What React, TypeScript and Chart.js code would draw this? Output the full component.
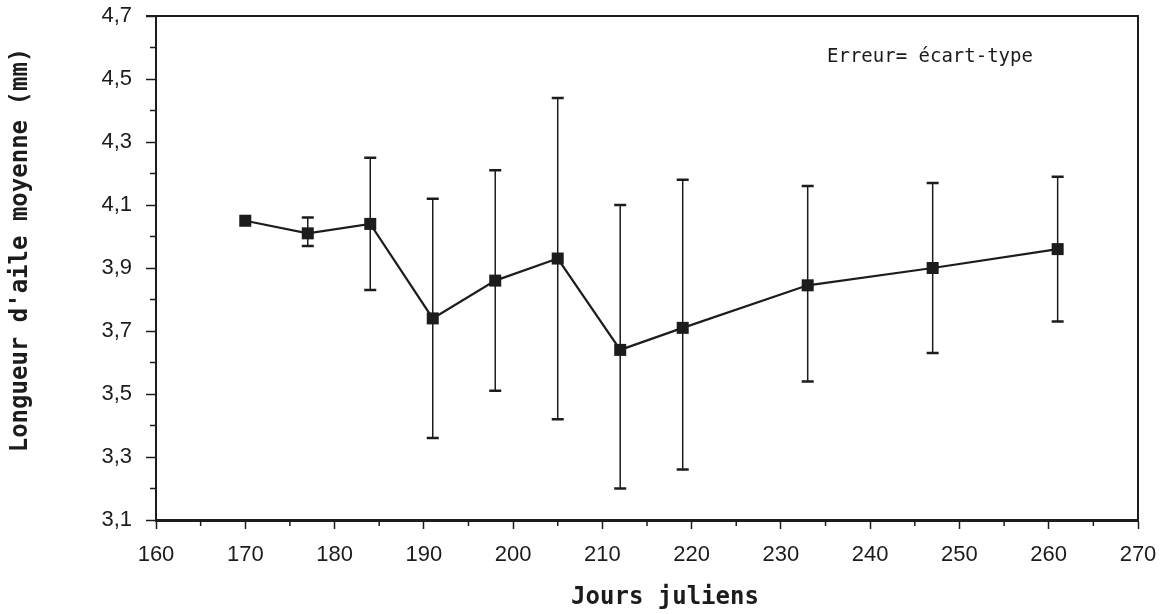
import React, { useEffect, useRef } from "react";
import { Chart, registerables } from "chart.js";

Chart.register(...registerables);

// Julian days of sampling
const days = [170, 177, 184, 191, 198, 205, 212, 219, 233, 247, 261];
// Mean wing length (mm)
const meanWing = [4.05, 4.01, 4.04, 3.74, 3.86, 3.93, 3.64, 3.71, 3.845, 3.9, 3.96];
// Error bar ends (mean ± standard deviation)
const errUpper: (number | null)[] = [null, 4.06, 4.25, 4.12, 4.21, 4.44, 4.1, 4.18, 4.16, 4.17, 4.19];
const errLower: (number | null)[] = [null, 3.97, 3.83, 3.36, 3.51, 3.42, 3.2, 3.26, 3.54, 3.63, 3.73];

const xMin = 160;
const xMax = 270;
const yMin = 3.1;
const yMax = 4.7;

const xTitle = "Jours juliens";
const yTitle = "Longueur d'aile moyenne (mm)";
const noteText = "Erreur= écart-type";

const INK = "#1c1c1c";
const TICK_FONT = "Liberation Sans";
const TITLE_FONT = "DejaVu Sans Mono";

export default function App() {
  const ref = useRef<HTMLCanvasElement | null>(null);

  useEffect(() => {
    document.body.style.margin = "0";
    const canvas = ref.current;
    if (!canvas) return;

    const decorPlugin = {
      id: "decor",
      beforeDatasetsDraw(chart: any) {
        const ctx = chart.ctx;
        const xs = chart.scales.x;
        const ys = chart.scales.y;
        ctx.save();
        ctx.strokeStyle = INK;
        for (let i = 0; i < days.length; i++) {
          const hi = errUpper[i];
          const lo = errLower[i];
          if (hi == null || lo == null) continue;
          const px = xs.getPixelForValue(days[i]);
          const pHi = ys.getPixelForValue(hi);
          const pLo = ys.getPixelForValue(lo);
          ctx.lineWidth = 1.5;
          ctx.beginPath();
          ctx.moveTo(px, pHi);
          ctx.lineTo(px, pLo);
          ctx.stroke();
          ctx.lineWidth = 2.5;
          ctx.beginPath();
          ctx.moveTo(px - 6, pHi);
          ctx.lineTo(px + 6, pHi);
          ctx.moveTo(px - 6, pLo);
          ctx.lineTo(px + 6, pLo);
          ctx.stroke();
        }
        ctx.restore();
      },
      afterDraw(chart: any) {
        const ctx = chart.ctx;
        const area = chart.chartArea;
        const xs = chart.scales.x;
        const ys = chart.scales.y;
        ctx.save();
        ctx.strokeStyle = INK;
        // top and right frame
        ctx.lineWidth = 2;
        ctx.beginPath();
        ctx.moveTo(area.left - 10, area.top);
        ctx.lineTo(area.right, area.top);
        ctx.lineTo(area.right, area.bottom);
        ctx.stroke();
        // minor ticks
        ctx.lineWidth = 1.5;
        ctx.beginPath();
        for (let v = xMin + 5; v < xMax; v += 10) {
          const px = xs.getPixelForValue(v);
          ctx.moveTo(px, area.bottom);
          ctx.lineTo(px, area.bottom + 6);
        }
        for (let k = 1; k < 16; k += 2) {
          const py = ys.getPixelForValue(yMin + k * 0.1);
          ctx.moveTo(area.left, py);
          ctx.lineTo(area.left - 6, py);
        }
        ctx.stroke();

        // axis titles
        ctx.fillStyle = INK;
        ctx.font = `bold 24px "${TITLE_FONT}"`;
        ctx.textAlign = "center";
        ctx.textBaseline = "middle";
        ctx.fillText(xTitle, (area.left + area.right) / 2 + 18, 598);
        ctx.save();
        ctx.translate(21, 250);
        ctx.rotate(-Math.PI / 2);
        ctx.fillText(yTitle, 0, 0);
        ctx.restore();

        // note
        ctx.font = `19px "${TITLE_FONT}"`;
        ctx.textAlign = "left";
        ctx.fillText(noteText, 827, 57);
        ctx.restore();
      },
    };

    const chart = new Chart(canvas, {
      type: "line",
      data: {
        datasets: [
          {
            data: days.map((d, i) => ({ x: d, y: meanWing[i] })),
            borderColor: INK,
            borderWidth: 2.2,
            pointStyle: "rect",
            pointRadius: 8.5,
            pointBackgroundColor: INK,
            pointBorderWidth: 0,
            tension: 0,
          },
        ],
      },
      options: {
        responsive: false,
        animation: false,
        layout: { padding: { top: 16, right: 29, left: 0, bottom: 0 } },
        plugins: {
          legend: { display: false },
          tooltip: { enabled: false },
          title: { display: false },
        },
        scales: {
          x: {
            type: "linear",
            min: xMin,
            max: xMax,
            border: { display: true, color: INK, width: 3 },
            grid: {
              drawOnChartArea: false,
              drawTicks: true,
              tickLength: 9,
              tickWidth: 1.5,
              tickColor: INK,
            },
            ticks: {
              stepSize: 10,
              padding: 13,
              color: INK,
              font: { family: TICK_FONT, size: 22 },
              maxRotation: 0,
              callback: (v: any) => String(v),
            },
            afterFit: (scale: any) => {
              scale.height = 94;
              scale.paddingLeft = 0;
              scale.paddingRight = 0;
            },
          },
          y: {
            type: "linear",
            min: yMin,
            max: yMax,
            border: { display: true, color: INK, width: 2 },
            grid: {
              drawOnChartArea: false,
              drawTicks: true,
              tickLength: 10,
              tickWidth: 1.5,
              tickColor: INK,
            },
            ticks: {
              stepSize: 0.2,
              padding: 14,
              color: INK,
              font: { family: TICK_FONT, size: 22 },
              callback: (v: any) => Number(v).toFixed(1).replace(".", ","),
            },
            afterFit: (scale: any) => {
              scale.width = 156;
              scale.paddingTop = 0;
              scale.paddingBottom = 0;
            },
          },
        },
      },
      plugins: [decorPlugin],
    } as any);

    return () => {
      chart.destroy();
    };
  }, []);

  return (
    <div style={{ width: 1167, height: 614, background: "#fff" }}>
      <canvas ref={ref} width={1167} height={614} style={{ display: "block" }} />
    </div>
  );
}
